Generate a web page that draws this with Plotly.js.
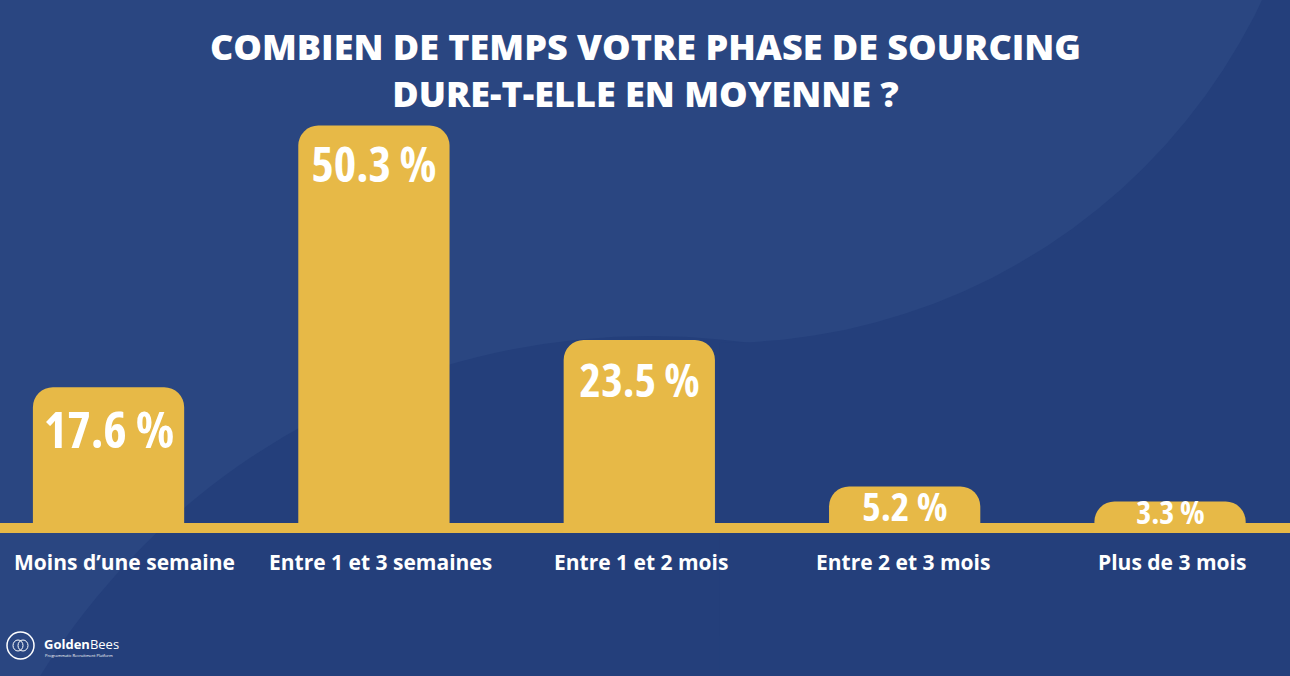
<!DOCTYPE html>
<html>
<head>
<meta charset="utf-8">
<script src="https://cdn.plot.ly/plotly-3.0.1.min.js"></script>
<style>
  html, body { margin: 0; padding: 0; background: #243f7b; }
  #chart { width: 1290px; height: 676px; }
  /* the value labels (annotations 1-5) use a narrow cut */
  .annotation[data-index="1"] text, .annotation[data-index="2"] text,
  .annotation[data-index="3"] text, .annotation[data-index="4"] text,
  .annotation[data-index="5"] text { font-stretch: 75%; }
</style>
</head>
<body>
<div id="chart"></div>
<script>
const categories = ['Moins d’une semaine', 'Entre 1 et 3 semaines', 'Entre 1 et 2 mois', 'Entre 2 et 3 mois', 'Plus de 3 mois'];
const shares = [17.6, 50.3, 23.5, 5.2, 3.3];
const titleLines = ['COMBIEN DE TEMPS VOTRE PHASE DE SOURCING', 'DURE-T-ELLE EN MOYENNE ?'];

const gold = '#e7b947';
const navyLight = '#2a4681';
const navyDark = '#243f7b';
// value label look: font size and drop below the bar top (px)
const labelSizes = [50, 48, 46, 40, 32];
const labelDrops = [42, 38, 39, 19, 10];
// small nudges of the category labels (px)
const catShifts = [16, 7, 2, -2, 2];

const W = 1290, PLOT_H = 534;
const px = v => v / W;
const py = v => (PLOT_H - v) / PLOT_H;

// darker region right of the big arc in the background (pixel geometry -> paper path)
function arcRegion() {
    const cx = 720, cy = -257, r = 600;
    let d = '';
    for (let a = 90; a >= 0; a -= 3) {
        const t = a * Math.PI / 180;
        const x = cx + r * Math.cos(t), y = cy + r * Math.sin(t);
        d += (d ? ' L ' : 'M ') + px(x).toFixed(4) + ',' + py(y).toFixed(4);
    }
    d += ' L ' + px(1330) + ',' + py(-260) + ' L ' + px(1330) + ',' + py(700) +
         ' L ' + px(720) + ',' + py(700) + ' Z';
    return d;
}

const trace = {
    type: 'bar',
    x: categories,
    y: shares,
    marker: { color: gold, cornerradius: 20, line: { width: 0 } },
    cliponaxis: false,
    hoverinfo: 'skip'
};

const valueLabels = shares.map((v, i) => ({
    xref: 'x', yref: 'y', x: categories[i], y: v,
    yanchor: 'middle', yshift: -labelDrops[i], showarrow: false,
    text: v.toFixed(1) + ' %',
    font: { family: 'Open Sans, DejaVu Sans, sans-serif', size: labelSizes[i], color: '#ffffff', weight: 'bold' }
}));

const categoryLabels = categories.map((c, i) => ({
    xref: 'x', yref: 'y', x: c, y: 0,
    xanchor: 'center', yanchor: 'middle', xshift: catShifts[i], yshift: -34, showarrow: false,
    text: c,
    font: { family: 'Open Sans, sans-serif', size: 21, color: '#ffffff', weight: 'bold' }
}));

const layout = {
    width: W,
    height: 676,
    paper_bgcolor: navyLight,
    plot_bgcolor: 'rgba(0,0,0,0)',
    margin: { l: 0, r: 0, t: 0, b: 676 - PLOT_H },
    bargap: 0.43,
    showlegend: false,
    xaxis: {
        type: 'category',
        range: [-0.409, 4.452],
        showgrid: false,
        zeroline: false,
        showline: false,
        showticklabels: false,
        ticks: '',
        fixedrange: true
    },
    yaxis: {
        range: [-0.75, 66],
        showgrid: false,
        zeroline: false,
        showline: false,
        showticklabels: false,
        ticks: '',
        fixedrange: true
    },
    shapes: [
        // darker disc rising from the bottom
        {
            type: 'circle', xref: 'paper', yref: 'paper', layer: 'below',
            x0: px(650 - 717), x1: px(650 + 717), y0: py(1053 + 717), y1: py(1053 - 717),
            fillcolor: navyDark, line: { width: 0 }
        },
        // darker area right of the arc
        {
            type: 'path', xref: 'paper', yref: 'paper', layer: 'below',
            path: arcRegion(),
            fillcolor: navyDark, line: { width: 0 }
        },
        // gold baseline across the page
        {
            type: 'line', xref: 'paper', yref: 'y', layer: 'above',
            x0: 0, x1: 1, y0: 0, y1: 0,
            line: { color: gold, width: 10 }
        },
        // logo ring
        {
            type: 'circle', xref: 'paper', yref: 'paper', layer: 'above',
            x0: px(7), x1: px(34), y0: py(659), y1: py(632),
            fillcolor: 'rgba(0,0,0,0)', line: { color: '#ffffff', width: 1.5 }
        },
        {
            type: 'circle', xref: 'paper', yref: 'paper', layer: 'above',
            x0: px(13), x1: px(23), y0: py(651), y1: py(640),
            fillcolor: 'rgba(0,0,0,0)', line: { color: '#ffffff', width: 1 }
        },
        {
            type: 'circle', xref: 'paper', yref: 'paper', layer: 'above',
            x0: px(18), x1: px(28), y0: py(651), y1: py(640),
            fillcolor: 'rgba(0,0,0,0)', line: { color: '#ffffff', width: 1 }
        }
    ],
    annotations: [
        {
            xref: 'paper', yref: 'paper', x: 0.5, y: py(70),
            xanchor: 'center', yanchor: 'middle', showarrow: false,
            text: titleLines.join('<br>'),
            font: { family: 'Open Sans, sans-serif', size: 36, color: '#ffffff', weight: 800 }
        },
        ...valueLabels,
        ...categoryLabels,
        {
            xref: 'paper', yref: 'paper', x: px(42), y: py(644),
            xanchor: 'left', yanchor: 'middle', showarrow: false,
            text: '<b>Golden</b>Bees',
            font: { family: 'Open Sans, sans-serif', size: 13, color: '#ffffff' }
        },
        {
            xref: 'paper', yref: 'paper', x: px(43), y: py(655),
            xanchor: 'left', yanchor: 'middle', showarrow: false,
            text: 'Programmatic Recruitment Platform',
            font: { family: 'Open Sans, sans-serif', size: 4, color: '#ffffff' }
        }
    ]
};

Plotly.newPlot('chart', [trace], layout, { displayModeBar: false, staticPlot: true });
</script>
</body>
</html>
